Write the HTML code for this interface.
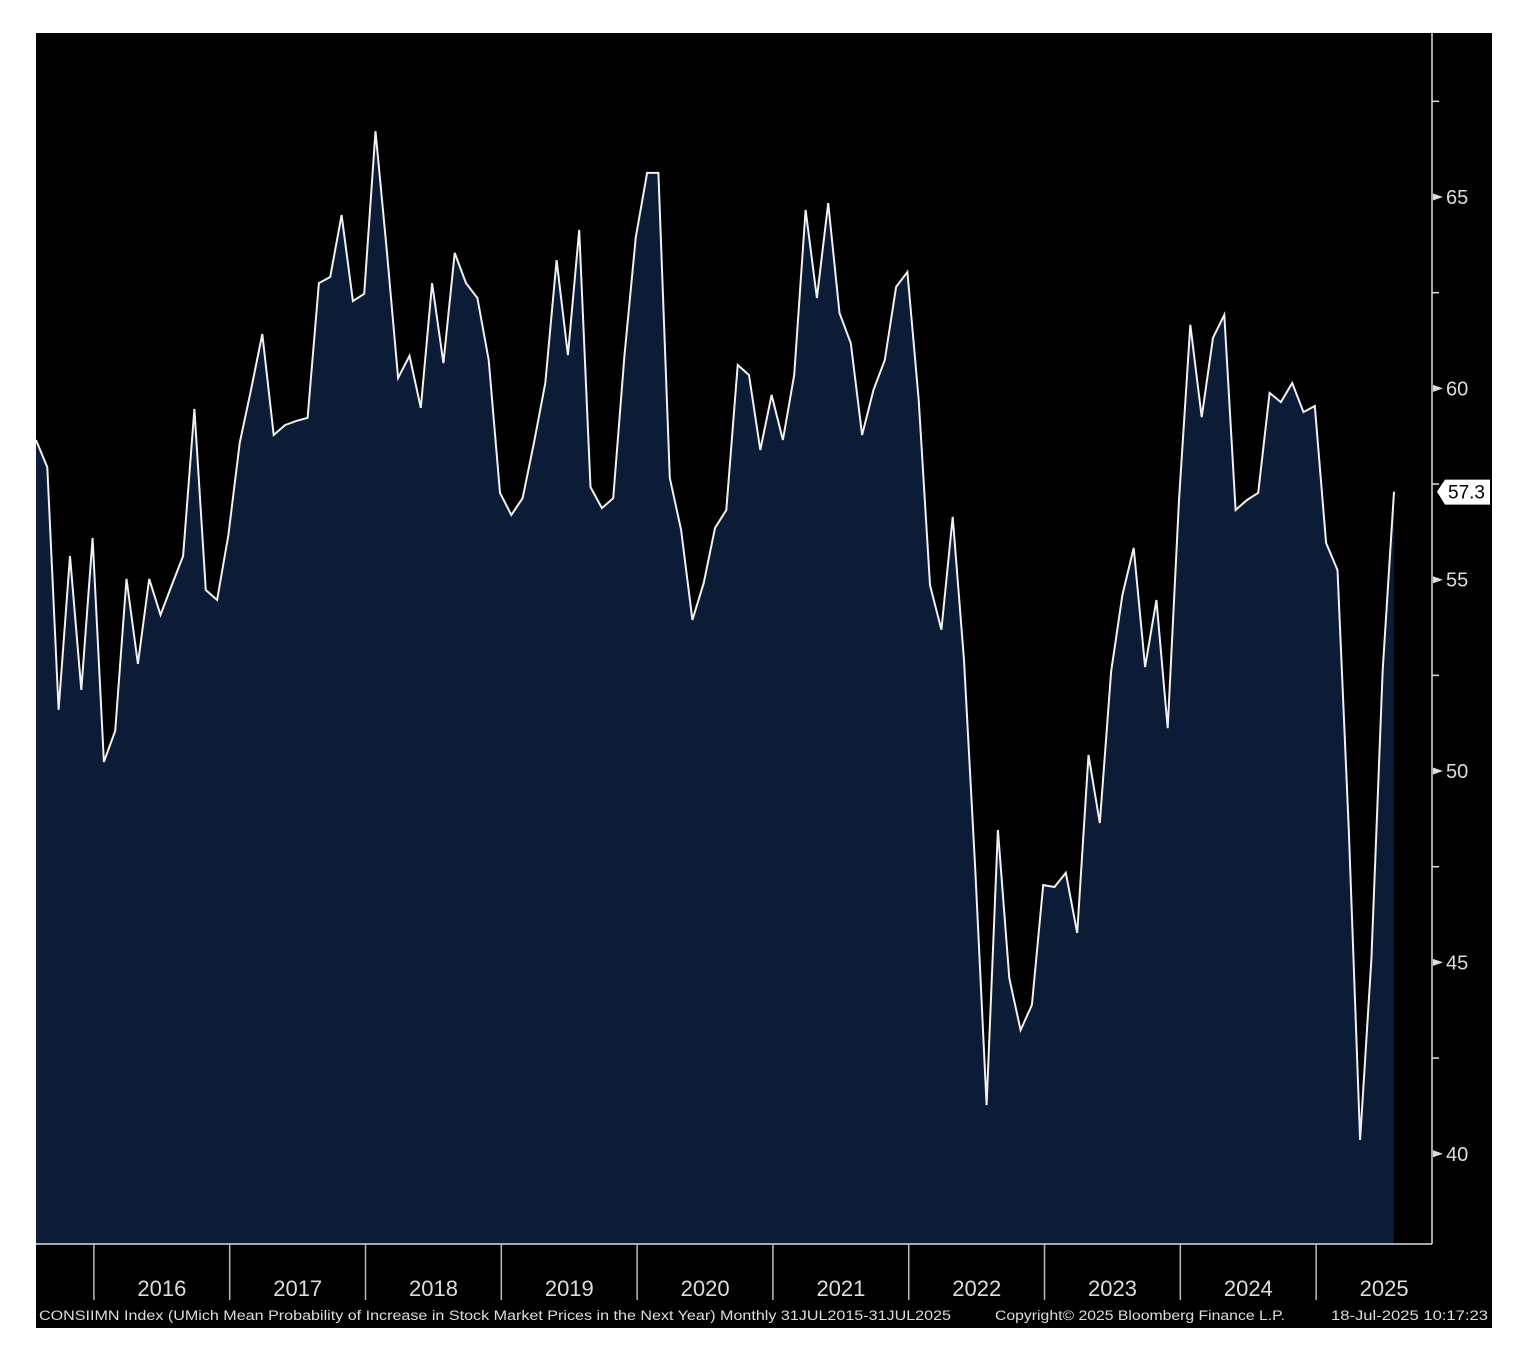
<!DOCTYPE html>
<html><head><meta charset="utf-8"><style>
html,body{margin:0;padding:0;background:#fff;}
svg{display:block;}
text{font-family:"Liberation Sans",sans-serif;}
</style></head><body>
<svg id="chart" width="1530" height="1358" viewBox="0 0 1530 1358" xmlns="http://www.w3.org/2000/svg">
<rect x="36" y="33" width="1456" height="1295" fill="#000"/>
<g id="plot"></g>
<line x1="36" y1="1244" x2="1432" y2="1244" stroke="#ddd" stroke-width="1.5"/>
<line x1="1432" y1="33" x2="1432" y2="1244" stroke="#ddd" stroke-width="1.5"/>
<g id="yaxis"></g>
<g id="xaxis"></g>
<g>
<polygon id="lastbox" points="" fill="#fff"/>
<text id="lasttext" x="1448" y="0" font-size="19" fill="#000"></text>
</g>
<text x="39" y="1320" font-size="13.5" fill="#ddd" font-family="Liberation Sans, sans-serif" textLength="912" lengthAdjust="spacingAndGlyphs">CONSIIMN Index (UMich Mean Probability of Increase in Stock Market Prices in the Next Year)  Monthly 31JUL2015-31JUL2025</text>
<text x="995" y="1320" font-size="13.5" fill="#ddd" textLength="290" lengthAdjust="spacingAndGlyphs">Copyright© 2025 Bloomberg Finance L.P.</text>
<text x="1331" y="1320" font-size="13.5" fill="#ddd" textLength="157" lengthAdjust="spacingAndGlyphs">18-Jul-2025 10:17:23</text>
</svg>
<script>
const values = [58.65,57.94,51.6,55.62,52.12,56.09,50.24,51.05,55.02,52.8,55.02,54.08,54.86,55.62,59.46,54.73,54.47,56.17,58.57,59.96,61.42,58.78,59.04,59.15,59.23,62.75,62.91,64.53,62.28,62.47,66.72,63.6,
60.27,60.85,59.49,62.75,60.66,63.54,62.75,62.36,60.74,57.27,56.69,57.13,58.57,60.14,63.35,60.87,64.14,57.42,56.87,57.13,60.87,63.95,65.63,65.63,57.66,56.3,53.95,54.91,56.35,56.82,
60.61,60.35,58.39,59.83,58.65,60.35,64.66,62.36,64.84,61.97,61.18,58.78,59.96,60.74,62.65,63.04,59.7,54.86,53.69,56.64,52.9,47.41,41.27,48.46,44.59,43.23,43.89,47.02,46.97,47.34,45.77,50.42,48.64,52.59,54.6,55.83,52.72,54.47,51.12,57.08,61.66,59.25,61.32,61.92,56.82,57.08,57.27,59.88,59.64,60.14,59.38,59.54,55.96,55.25,48.46,40.36,45.09,52.64,57.3];
const yearLabels = ["2016","2017","2018","2019","2020","2021","2022","2023","2024","2025"];
const yTicks = [40,45,50,55,60,65];
const yMinorTicks = [42.5,47.5,52.5,57.5,62.5,67.5];
const NS="http://www.w3.org/2000/svg";
const X0=36, DX=11.317, BOTTOM=1244;
function xs(i){return X0+i*DX;}
function ys(v){return 197+(65-v)*38.27;}
function mk(tag,attrs,parent){const e=document.createElementNS(NS,tag);for(const k in attrs)e.setAttribute(k,attrs[k]);parent.appendChild(e);return e;}
const plot=document.getElementById('plot');
let pts=values.map((v,i)=>xs(i).toFixed(1)+','+ys(v).toFixed(1));
const area=mk('polygon',{points:X0+','+BOTTOM+' '+pts.join(' ')+' '+xs(values.length-1).toFixed(1)+','+BOTTOM,fill:'#0d1c36'},plot);


const line=mk('polyline',{points:pts.join(' '),fill:'none',stroke:'#f0f0f0','stroke-width':2,'stroke-linejoin':'miter'},plot);


const ya=document.getElementById('yaxis');
yTicks.forEach(t=>{const y=ys(t);
 const tk=mk('polygon',{points:`1433,${y-3.5} 1443,${y} 1433,${y+3.5}`,fill:'#ddd'},ya);
 
 
 const tx=mk('text',{x:1446,y:y+7,'font-size':20,fill:'#ddd'},ya);tx.textContent=t;
 
 
});
yMinorTicks.forEach(t=>{const y=ys(t);
 const tk=mk('line',{x1:1432,x2:1439,y1:y,y2:y,stroke:'#ddd','stroke-width':1.5},ya);
 
 
});
const xa=document.getElementById('xaxis');
yearLabels.forEach((lab,k)=>{const xsep=xs(6+12*k)-10;
 const l=mk('line',{x1:xsep,x2:xsep,y1:1244,y2:1300,stroke:'#bbb','stroke-width':1.5},xa);
 
 
 const tx=mk('text',{x:xsep+68,y:1296,'font-size':22,fill:'#ddd','text-anchor':'middle'},xa);tx.textContent=lab;
 
 
});
const last=values[values.length-1], ly=ys(last);
document.getElementById('lastbox').setAttribute('points',`1437,${ly} 1445,${ly-12} 1490,${ly-12} 1490,${ly+13} 1445,${ly+13}`);
const lt=document.getElementById('lasttext');lt.setAttribute('y',ly+7);lt.textContent=last.toFixed(1);
</script>
</body></html>
